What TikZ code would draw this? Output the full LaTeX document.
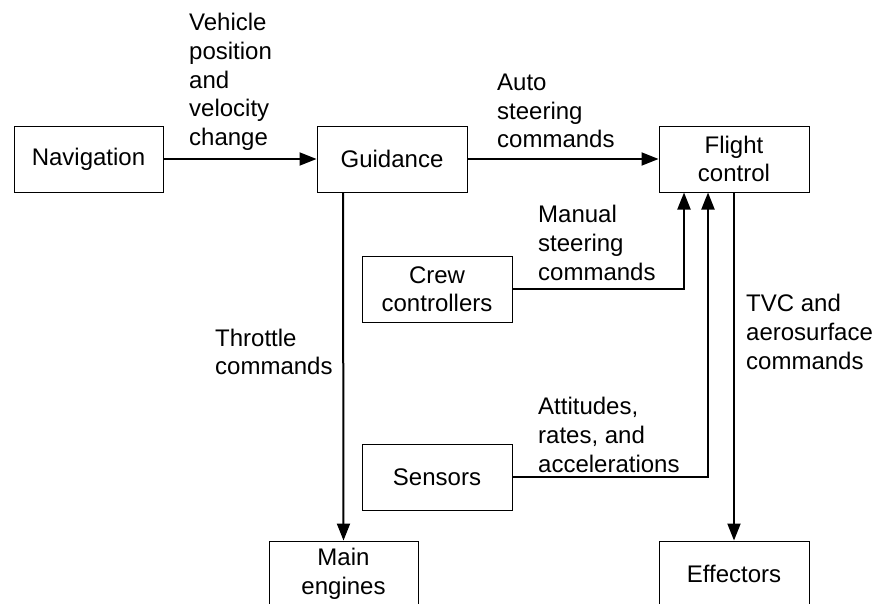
\documentclass[tikz,border=0pt]{standalone}
\usepackage{fontspec}
\setmainfont{Liberation Sans}
\usetikzlibrary{arrows.meta}
\begin{document}
\begin{tikzpicture}[x=1pt,y=-1pt,
  box/.style={draw,line width=1pt,minimum width=150pt,minimum height=66pt,inner sep=0pt,align=center,font=\fontsize{24}{28.5}\selectfont},
  lbl/.style={inner sep=0pt,align=left,anchor=west,font=\fontsize{24}{28.7}\selectfont},
  conn/.style={line width=2pt,-{Triangle[length=17pt,width=13pt]}}]
\useasboundingbox (0,0) rectangle (875,603);
\node[box,minimum width=149pt] (nav) at (88.5,159) {Navigation};
\node[box] (guid) at (392,159) {Guidance};
\node[box] (fc) at (734,159) {Flight\\control};
\node[box] (crew) at (437,289) {Crew\\controllers};
\node[box] (sens) at (437,477) {Sensors};
\node[box,minimum width=149pt] (main) at (343.5,574) {Main\\engines};
\node[box] (eff) at (734,574) {Effectors};
\node[lbl] (veh) at (189,82) {Vehicle\\position\\and\\velocity\\change};
\node[lbl] (auto) at (497,111) {Auto\\steering\\commands};
\node[lbl] (man) at (538,243) {Manual\\steering\\commands};
\node[lbl] (thr) at (215,352) {Throttle\\commands};
\node[lbl] (tvc) at (746,332) {TVC and\\aerosurface\\commands};
\node[lbl] (att) at (538,435) {Attitudes,\\rates, and\\accelerations};
\draw[conn] (nav.east) -- (guid.west);
\draw[conn] (guid.east) -- (fc.west);
\draw[conn] (crew.east) -| ([xshift=-50pt]fc.south);
\draw[conn] (sens.east) -| ([xshift=-26pt]fc.south);
\draw[conn] ([xshift=-49pt]guid.south) -- (main.north);
\draw[conn] (fc.south) -- (eff.north);
\end{tikzpicture}
\end{document}
